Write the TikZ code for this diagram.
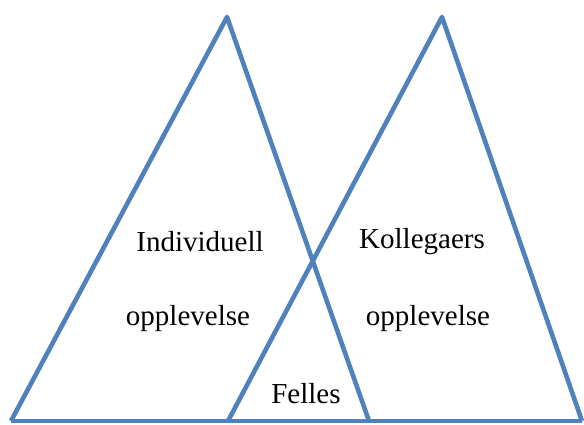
\documentclass[tikz,border=0pt]{standalone}
\usepackage{fontspec}
\setmainfont{Liberation Serif}
\usepackage{xcolor}
\usepackage{tikz}
\definecolor{edgeblue}{HTML}{4F81BD}

\begin{document}
\begin{tikzpicture}[
    x=1pt, y=-1pt,
    side/.style={draw=edgeblue, line width=4.6pt, line join=round},
    label/.style={font=\fontsize{29}{34}\selectfont, inner sep=0pt}
]
    \useasboundingbox (0,0) rectangle (584,425);

    % Corners of the two triangles
    \coordinate (lbase) at (11,421);
    \coordinate (ltop) at (227,17);
    \coordinate (lright) at (369,421);
    \coordinate (rleft) at (228,421);
    \coordinate (rtop) at (442,17);
    \coordinate (rbase) at (582,421);

    % Triangles
    \draw[side] (lbase) -- (ltop) -- (lright);
    \draw[side] (rleft) -- (rtop) -- (rbase);
    \draw[side] (lbase) -- (rbase);

    % Texts
    \node[label] (indiv) at (200,242) {Individuell};
    \node[label] (opplL) at (188,319) {opplevelse};
    \node[label] (koll) at (422,242) {Kollegaers};
    \node[label] (opplR) at (428,319) {opplevelse};
    \node[label] (felles) at (306,394) {Felles};

\end{tikzpicture}
\end{document}
